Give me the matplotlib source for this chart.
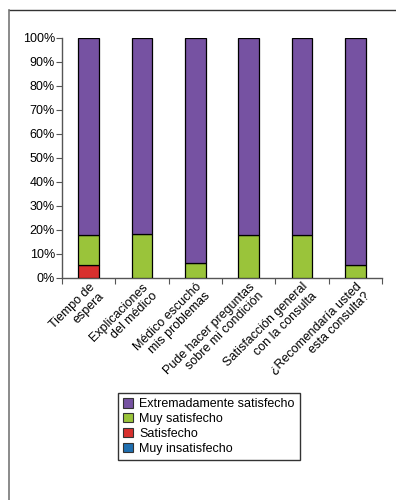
import matplotlib
matplotlib.use("Agg")
import matplotlib.pyplot as plt
import numpy as np
from matplotlib.lines import Line2D
from matplotlib.patches import Patch

plt.rcParams['font.family'] = ['Liberation Sans', 'DejaVu Sans']

categories = ["Tiempo de\nespera", "Explicaciones\ndel médico", "Médico escuchó\nmis problemas",
              "Pude hacer preguntas\nsobre mi condición", "Satisfacción general\ncon la consulta",
              "¿Recomendaría usted\nesta consulta?"]
muy_insatisfecho = [0.0, 0.0, 0.0, 0.0, 0.0, 0.0]
satisfecho = [5.6, 0.0, 0.0, 0.0, 0.0, 0.0]
muy_satisfecho = [12.5, 18.2, 6.1, 18.0, 18.0, 5.6]
extremadamente = [81.9, 81.8, 93.9, 82.0, 82.0, 94.4]
series_names = ["Extremadamente satisfecho", "Muy satisfecho", "Satisfecho", "Muy insatisfecho"]
colors = {"Muy insatisfecho": "#1f6fb0", "Satisfecho": "#d8302e",
          "Muy satisfecho": "#9ac43a", "Extremadamente satisfecho": "#7652a2"}
yticks = [0, 10, 20, 30, 40, 50, 60, 70, 80, 90, 100]

FS = 9
fig = plt.figure(figsize=(3.96, 5.0), dpi=100)
W, H = 396, 500
ax = fig.add_axes([62 / W, 1 - 278 / H, (382 - 62) / W, (278 - 38) / H])

x = np.arange(len(categories))
bottom = np.zeros(len(categories))
stack = [("Muy insatisfecho", muy_insatisfecho), ("Satisfecho", satisfecho),
         ("Muy satisfecho", muy_satisfecho), ("Extremadamente satisfecho", extremadamente)]
for name, vals in stack:
    vals = np.array(vals)
    ax.bar(x, vals, bottom=bottom, width=0.39, color=colors[name],
           edgecolor="black", linewidth=0.9, zorder=3)
    bottom += vals

ax.set_xlim(-0.5, len(categories) - 0.5)
ax.set_ylim(0, 100)
ax.set_yticks(yticks)
ax.set_yticklabels([f"{v}%" for v in yticks], fontsize=FS)
ax.set_xticks(np.arange(len(categories) + 1) - 0.5)
ax.set_xticklabels([])
ax.set_xticks(x, minor=True)
ax.set_xticklabels(categories, minor=True, rotation=45, ha='right', va='top',
                   rotation_mode='anchor', fontsize=FS, multialignment='right',
                   linespacing=1.1)
ax.tick_params(axis='x', which='minor', length=0, pad=2)
ax.tick_params(axis='x', which='major', length=4, direction='out', color='#555555')
ax.tick_params(axis='y', length=4, direction='out', pad=1, color='#555555')
for s in ['top', 'right']:
    ax.spines[s].set_visible(False)
for s in ['left', 'bottom']:
    ax.spines[s].set_color('#555555')
    ax.spines[s].set_linewidth(1.0)

handles = [Patch(facecolor=colors[n], edgecolor='#333333', linewidth=0.8) for n in series_names]
fig.legend(handles, series_names, loc='upper left', bbox_to_anchor=(118 / W, 1 - 393 / H),
           frameon=True, fancybox=False, edgecolor='black', fontsize=FS,
           handlelength=0.8, handleheight=0.8, handletextpad=0.5, labelspacing=0.22,
           borderpad=0.4, borderaxespad=0)

fig.add_artist(Line2D([9 / W, 1], [1 - 10 / H, 1 - 10 / H], color='#333333', lw=1.0))
fig.add_artist(Line2D([9 / W, 9 / W], [0, 1 - 10 / H], color='#777777', lw=1.2))

fig.savefig("out.png", dpi=100)
